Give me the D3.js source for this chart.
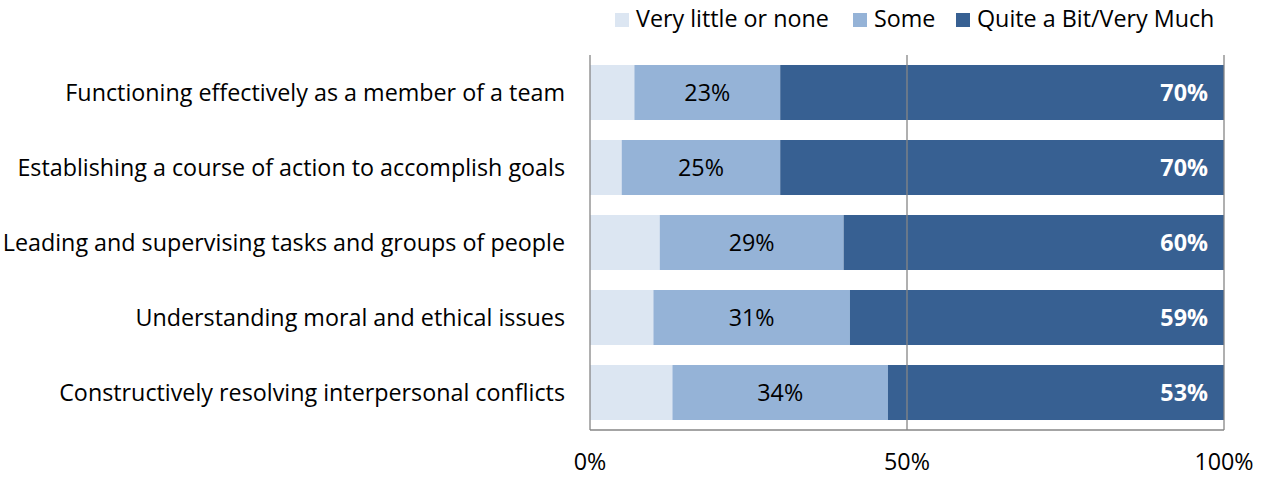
<!DOCTYPE html>
<html>
<head>
<meta charset="utf-8">
<script src="https://cdn.jsdelivr.net/npm/d3@7"></script>
<style>
  body { margin: 0; background: #fff; }
  svg text { font-family: "Open Sans", Lato, sans-serif; }
</style>
</head>
<body>
<svg id="chart" width="1265" height="477"></svg>
<script>
// Skill areas, top to bottom
const categories = [
  "Functioning effectively as a member of a team",
  "Establishing a course of action to accomplish goals",
  "Leading and supervising tasks and groups of people",
  "Understanding moral and ethical issues",
  "Constructively resolving interpersonal conflicts"
];
// Share of respondents (%) per response level
const veryLittle = [7, 5, 11, 10, 13];
const some = [23, 25, 29, 31, 34];
const quiteABit = [70, 70, 60, 59, 53];

const seriesNames = ["Very little or none", "Some", "Quite a Bit/Very Much"];
const seriesColors = ["#DCE6F2", "#95B3D7", "#376092"];
const tickValues = [0, 50, 100];

const fontSize = 23.3;

const svg = d3.select("#chart");
const margin = { top: 55, right: 41, bottom: 47, left: 590 };
const width = 1265 - margin.left - margin.right;
const height = 477 - margin.top - margin.bottom;

const g = svg.append("g").attr("transform", `translate(${margin.left},${margin.top})`);

const rows = categories.map((c, i) => ({
  category: c,
  [seriesNames[0]]: veryLittle[i],
  [seriesNames[1]]: some[i],
  [seriesNames[2]]: quiteABit[i]
}));
const stacked = d3.stack().keys(seriesNames)(rows);

const x = d3.scaleLinear().domain([0, 100]).range([0, width]);
const y = d3.scaleBand().domain(categories).range([0, height])
  .paddingInner(0.2667).paddingOuter(0.1333);

// Bars
stacked.forEach((layer, li) => {
  g.append("g").selectAll("rect").data(layer).join("rect")
    .attr("x", d => x(d[0]))
    .attr("y", d => y(d.data.category))
    .attr("width", d => x(d[1]) - x(d[0]))
    .attr("height", y.bandwidth())
    .attr("fill", seriesColors[li]);
});

// Vertical gridlines at 0, 50, 100
g.append("g").selectAll("line").data(tickValues).join("line")
  .attr("x1", d => x(d)).attr("x2", d => x(d))
  .attr("y1", 0).attr("y2", height)
  .attr("stroke", "#868686").attr("stroke-width", 1.3);

// Bottom axis line
g.append("line")
  .attr("x1", 0).attr("x2", width)
  .attr("y1", height).attr("y2", height)
  .attr("stroke", "#868686").attr("stroke-width", 1.3);

// Tick labels
g.append("g").selectAll("text").data(tickValues).join("text")
  .attr("x", d => x(d)).attr("y", height + 40)
  .attr("text-anchor", "middle")
  .attr("font-size", fontSize).attr("fill", "#000")
  .text(d => d + "%");

// Category labels
g.append("g").selectAll("text").data(categories).join("text")
  .attr("x", -25).attr("y", d => y(d) + y.bandwidth() / 2)
  .attr("dy", "0.35em")
  .attr("text-anchor", "end")
  .attr("font-size", fontSize).attr("fill", "#000")
  .text(d => d);

// Value labels on the "Some" segments
g.append("g").selectAll("text").data(stacked[1]).join("text")
  .attr("x", d => (x(d[0]) + x(d[1])) / 2)
  .attr("y", d => y(d.data.category) + y.bandwidth() / 2)
  .attr("dy", "0.35em")
  .attr("text-anchor", "middle")
  .attr("font-size", fontSize).attr("fill", "#000")
  .text(d => (d[1] - d[0]) + "%");

// Value labels on the "Quite a Bit/Very Much" segments
g.append("g").selectAll("text").data(stacked[2]).join("text")
  .attr("x", d => x(d[1]) - 16)
  .attr("y", d => y(d.data.category) + y.bandwidth() / 2)
  .attr("dy", "0.35em")
  .attr("text-anchor", "end")
  .attr("font-size", fontSize).attr("font-weight", "bold").attr("fill", "#fff")
  .text(d => (d[1] - d[0]) + "%");

// Legend
const legendX = [615, 853, 956];
const legend = svg.append("g").selectAll("g").data(seriesNames).join("g")
  .attr("transform", (d, i) => `translate(${legendX[i]},13)`);
legend.append("rect").attr("width", 14).attr("height", 14)
  .attr("fill", (d, i) => seriesColors[i]);
legend.append("text").attr("x", 21).attr("y", 14)
  .attr("font-size", fontSize).attr("fill", "#000")
  .text(d => d);
</script>
</body>
</html>
